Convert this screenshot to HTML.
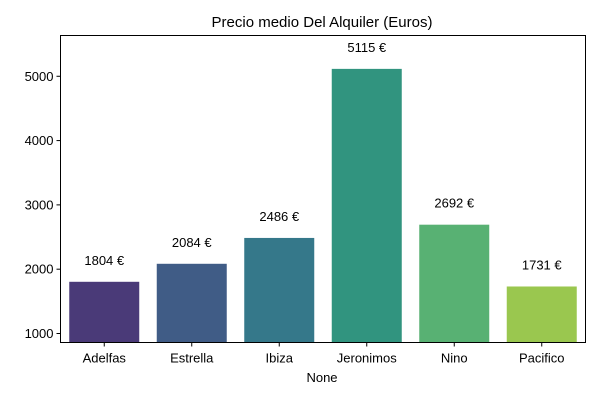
<!DOCTYPE html>
<html><head><meta charset="utf-8"><style>body{margin:0;background:#fff}svg{display:block;font-family:"Liberation Sans","DejaVu Sans",sans-serif}</style></head>
<body>
<svg id="chart" width="600" height="400">
<rect x="0" y="0" width="600" height="400" fill="#fff"/>
<text x="322" y="27" font-size="15" text-anchor="middle">Precio medio Del Alquiler (Euros)</text>
<g id="bars"></g>
<g id="yaxis"></g>
<g id="xaxis"></g>
<rect x="60.5" y="35.5" width="525" height="307" fill="none" stroke="#000" stroke-width="1"/>
<text x="322" y="382" font-size="13" text-anchor="middle">None</text>
</svg>
<script>
const categories = ["Adelfas","Estrella","Ibiza","Jeronimos","Nino","Pacifico"];
const values = [1804,2084,2486,5115,2692,1731];
const yTicks = [1000,2000,3000,4000,5000];
const colors = ["#4a3a78","#405c86","#35788a","#31947f","#58b173","#9ac74f"];
const NS="http://www.w3.org/2000/svg";
const L=60.5,R=585.5,T=35.5,B=342.5,yMin=860,yMax=5634;
function y(v){return B-(v-yMin)/(yMax-yMin)*(B-T);}
const band=(R-L)/categories.length;
function xc(i){return L+band*(i+0.5);}
function mk(t,a,p){const e=document.createElementNS(NS,t);for(const k in a)e.setAttribute(k,a[k]);p.appendChild(e);return e;}
const gb=document.getElementById('bars'),gy=document.getElementById('yaxis'),gx=document.getElementById('xaxis');
categories.forEach((c,i)=>{
  const w=band*0.8;
  const r=mk('rect',{x:xc(i)-w/2,y:y(values[i]),width:w,height:B-y(values[i]),fill:colors[i]},gb);
  
  
  const t=mk('text',{x:xc(i),y:y(values[i])-17,'font-size':13,'text-anchor':'middle'},gb);
  t.textContent=values[i]+' €';
  
  
  const tk=mk('line',{x1:xc(i),x2:xc(i),y1:B,y2:B+4,stroke:'#000'},gx);
  
  
  const xl=mk('text',{x:xc(i),y:B+20,'font-size':13,'text-anchor':'middle'},gx);
  xl.textContent=c;
  
  
});
yTicks.forEach(v=>{
  const tk=mk('line',{x1:L-4,x2:L,y1:y(v),y2:y(v),stroke:'#000'},gy);
  
  
  const t=mk('text',{x:L-7,y:y(v)+4.5,'font-size':13,'text-anchor':'end'},gy);
  t.textContent=v;
  
  
});
</script>
</body></html>
